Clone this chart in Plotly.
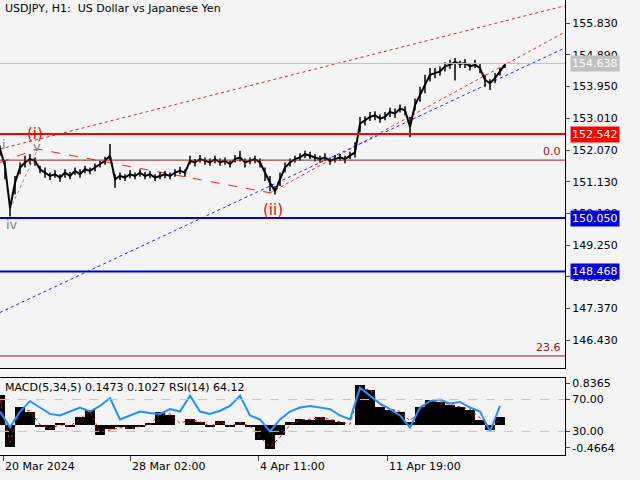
import plotly.graph_objects as go

# close prices, one every 5 bars (x is bar position)
bar_x = list(range(0, 510, 5))
close = [152.10, 151.60, 150.35, 151.10, 151.55, 151.70, 151.80, 151.75, 151.50, 151.40,
         151.30, 151.35, 151.25, 151.40, 151.30, 151.45, 151.35, 151.50, 151.45, 151.55,
         151.65, 151.75, 151.90, 151.20, 151.30, 151.25, 151.35, 151.30, 151.40, 151.30,
         151.35, 151.25, 151.30, 151.35, 151.30, 151.40, 151.45, 151.40, 151.75, 151.70,
         151.80, 151.75, 151.70, 151.80, 151.70, 151.75, 151.65, 151.80, 151.85, 151.70,
         151.75, 151.80, 151.70, 151.40, 151.10, 150.85, 151.20, 151.55, 151.70, 151.80,
         151.85, 151.95, 151.90, 151.85, 151.80, 151.85, 151.75, 151.80, 151.85, 151.80,
         151.90, 152.00, 152.85, 152.95, 153.05, 153.10, 153.00, 153.05, 153.20, 153.15,
         153.30, 153.25, 152.75, 153.40, 153.70, 154.00, 154.30, 154.35, 154.40, 154.55,
         154.60, 154.68, 154.62, 154.65, 154.55, 154.60, 154.50, 154.15, 154.05, 154.20,
         154.40, 154.60]
# bar extent above / below the close
up = [0.10, 0.15, 0.20, 0.20, 0.15, 0.20, 0.15, 0.10, 0.10, 0.15,
      0.10, 0.12, 0.10, 0.10, 0.12, 0.10, 0.15, 0.10, 0.10, 0.12,
      0.10, 0.12, 0.35, 0.15, 0.10, 0.10, 0.12, 0.10, 0.10, 0.12,
      0.10, 0.10, 0.12, 0.10, 0.10, 0.10, 0.12, 0.10, 0.15, 0.10,
      0.12, 0.10, 0.12, 0.10, 0.12, 0.10, 0.10, 0.12, 0.20, 0.12,
      0.10, 0.10, 0.12, 0.15, 0.20, 0.15, 0.20, 0.15, 0.12, 0.10,
      0.12, 0.10, 0.12, 0.10, 0.10, 0.12, 0.10, 0.12, 0.10, 0.10,
      0.12, 0.30, 0.20, 0.12, 0.15, 0.12, 0.12, 0.15, 0.12, 0.15,
      0.12, 0.12, 0.30, 0.20, 0.25, 0.30, 0.20, 0.15, 0.15, 0.12,
      0.15, 0.12, 0.10, 0.12, 0.10, 0.15, 0.12, 0.15, 0.12, 0.15,
      0.12, 0.05]
down = [0.20, 0.40, 0.25, 0.35, 0.20, 0.15, 0.15, 0.15, 0.12, 0.15,
        0.12, 0.10, 0.12, 0.15, 0.10, 0.12, 0.10, 0.12, 0.10, 0.12,
        0.10, 0.12, 0.15, 0.25, 0.12, 0.10, 0.12, 0.10, 0.12, 0.10,
        0.12, 0.10, 0.10, 0.12, 0.10, 0.12, 0.10, 0.12, 0.10, 0.12,
        0.10, 0.12, 0.10, 0.12, 0.10, 0.12, 0.10, 0.10, 0.12, 0.15,
        0.10, 0.12, 0.15, 0.25, 0.25, 0.10, 0.20, 0.15, 0.12, 0.10,
        0.10, 0.12, 0.10, 0.12, 0.10, 0.10, 0.12, 0.10, 0.10, 0.12,
        0.10, 0.15, 0.25, 0.15, 0.12, 0.15, 0.12, 0.10, 0.15, 0.12,
        0.12, 0.15, 0.30, 0.15, 0.20, 0.25, 0.20, 0.15, 0.12, 0.15,
        0.12, 0.55, 0.12, 0.15, 0.12, 0.10, 0.15, 0.20, 0.20, 0.15,
        0.12, 0.10]

osc_x = list(range(0, 510, 10))
macd = [0.60, -0.45, 0.35, 0.25, -0.05, -0.10, 0.02, -0.05, 0.15, 0.30,
        -0.20, -0.08, -0.05, -0.08, -0.05, 0.02, 0.25, 0.20, 0.00, 0.12,
        0.05, -0.05, 0.08, -0.05, 0.05, -0.05, -0.30, -0.50, -0.20, 0.05,
        0.12, 0.10, 0.15, 0.10, 0.05, 0.00, 0.80, 0.70, 0.35, 0.30,
        0.25, 0.05, 0.35, 0.50, 0.45, 0.40, 0.35, 0.30, 0.10, -0.10, 0.15]
signal = [0.50, -0.35, 0.30, 0.28, 0.00, -0.08, 0.00, -0.03, 0.12, 0.27,
          -0.15, -0.10, -0.06, -0.07, -0.04, 0.00, 0.22, 0.22, 0.03, 0.10,
          0.06, -0.03, 0.06, -0.03, 0.04, -0.03, -0.25, -0.45, -0.25, 0.00,
          0.10, 0.11, 0.14, 0.11, 0.06, 0.01, 0.70, 0.72, 0.40, 0.32,
          0.27, 0.08, 0.30, 0.47, 0.46, 0.41, 0.36, 0.31, 0.14, -0.05, 0.10]
rsi = [55, 35, 55, 68, 60, 52, 50, 55, 60, 55, 62, 72, 45, 50, 55, 53, 52, 58, 55, 75,
       55, 52, 56, 62, 75, 50, 45, 30, 45, 55, 60, 62, 60, 58, 50, 45, 85, 75, 65, 58,
       50, 35, 60, 68, 70, 65, 67, 60, 55, 30, 62]

price_ticks = [155.830, 154.890, 153.950, 153.010, 152.070, 151.130, 150.190, 149.250,
               148.310, 147.370, 146.430]
level_red = 152.542
level_blue = [150.050, 148.468]
last_price = 154.638
fib_0 = 151.77
fib_236 = 145.96
date_pos = [3, 130, 258, 387]
date_labels = ["20 Mar 2024", "28 Mar 02:00", "4 Apr 11:00", "11 Apr 19:00"]

FONT = "DejaVu Sans"
fig = go.Figure()

# trend lines
fig.add_trace(go.Scatter(x=[0, 565], y=[152.10, 156.35], mode="lines",
                         line=dict(color="#c03030", width=1, dash="dot"), hoverinfo="skip"))
fig.add_trace(go.Scatter(x=[270, 565], y=[150.80, 155.57], mode="lines",
                         line=dict(color="#ff2020", width=1, dash="dot"), hoverinfo="skip"))
fig.add_trace(go.Scatter(x=[0, 565], y=[147.25, 155.10], mode="lines",
                         line=dict(color="#2020ff", width=1, dash="dot"), hoverinfo="skip"))
fig.add_trace(go.Scatter(x=[0, 37, 270], y=[151.70, 152.10, 150.80], mode="lines",
                         line=dict(color="#ff2020", width=1, dash="dash"), hoverinfo="skip"))
fig.add_trace(go.Scatter(x=[10, 37], y=[150.30, 152.05], mode="lines",
                         line=dict(color="#888888", width=1, dash="dot"), hoverinfo="skip"))

# price bars
fig.add_trace(go.Scatter(x=bar_x, y=close, mode="lines",
                         line=dict(color="black", width=2),
                         error_y=dict(type="data", array=up, arrayminus=down, symmetric=False,
                                      width=0, thickness=1.5, color="black")))

# oscillator panel
fig.add_trace(go.Bar(x=osc_x, y=macd, width=10, marker=dict(color="black", line_width=0),
                     xaxis="x2", yaxis="y2"))
fig.add_trace(go.Scatter(x=osc_x, y=signal, mode="lines", xaxis="x2", yaxis="y2",
                         line=dict(color="red", width=1, dash="dot")))
fig.add_trace(go.Scatter(x=osc_x, y=rsi, mode="lines", xaxis="x2", yaxis="y3",
                         line=dict(color="#1e90ff", width=2)))

shapes = [
    dict(type="line", xref="x", yref="y", x0=0, x1=565, y0=last_price, y1=last_price,
         line=dict(color="#c0c0c0", width=1)),
    dict(type="line", xref="x", yref="y", x0=0, x1=565, y0=level_red, y1=level_red,
         line=dict(color="red", width=2)),
    dict(type="line", xref="x", yref="y", x0=0, x1=565, y0=fib_0, y1=fib_0,
         line=dict(color="#8b2020", width=1)),
    dict(type="line", xref="x", yref="y", x0=0, x1=565, y0=fib_236, y1=fib_236,
         line=dict(color="#8b2020", width=1)),
]
for lv in level_blue:
    shapes.append(dict(type="line", xref="x", yref="y", x0=0, x1=565, y0=lv, y1=lv,
                       line=dict(color="#0000dd", width=2)))
for lv in [70, 30]:
    shapes.append(dict(type="line", xref="x2", yref="y3", x0=0, x1=565, y0=lv, y1=lv,
                       line=dict(color="#c0c0c0", width=1, dash="dash")))

ann = [
    dict(x=0.005, y=1.0, xref="paper", yref="paper", xanchor="left", yanchor="top",
         text="USDJPY, H1:  US Dollar vs Japanese Yen", font=dict(size=11, color="black")),
    dict(x=0.005, y=0.168, xref="paper", yref="paper", xanchor="left", yanchor="top",
         text="MACD(5,34,5) 0.1473 0.1027 RSI(14) 64.12", font=dict(size=11, color="black")),
    dict(x=35, y=152.54, text="(i)", font=dict(size=15, color="red")),
    dict(x=4, y=152.22, text="i", font=dict(size=13, color="#808080")),
    dict(x=37, y=152.17, text="v", font=dict(size=13, color="#808080")),
    dict(x=12, y=149.85, text="iv", font=dict(size=13, color="#808080")),
    dict(x=273, y=150.30, text="(ii)", font=dict(size=15, color="red")),
    dict(x=563, y=fib_0, text="0.0", xanchor="right", yanchor="bottom",
         font=dict(size=11, color="#8b2020")),
    dict(x=563, y=fib_236, text="23.6", xanchor="right", yanchor="bottom",
         font=dict(size=11, color="#8b2020")),
]
for a in ann:
    a["showarrow"] = False
boxes = [(last_price, "#c0c0c0"), (level_red, "red")] + [(lv, "#0000dd") for lv in level_blue]
for lv, col in boxes:
    ann.append(dict(x=1.0, xref="paper", y=lv, yref="y", xanchor="left", showarrow=False,
                    text=f"{lv:.3f}", bgcolor=col, font=dict(size=11, color="white"),
                    borderpad=1, xshift=5))
for pos, lab in zip(date_pos, date_labels):
    ann.append(dict(x=pos, xref="x2", y=0, yref="paper", yanchor="top", xanchor="left",
                    yshift=-3, showarrow=False, text=lab, font=dict(size=11, color="black")))

tickfont = dict(size=11, color="black")
fig.update_layout(
    width=640, height=480, showlegend=False,
    paper_bgcolor="#f4f4f4", plot_bgcolor="#f4f4f4",
    margin=dict(l=0, r=75, t=0, b=25, autoexpand=False),
    font=dict(family=FONT, size=11),
    bargap=0,
    xaxis=dict(range=[0, 565], showticklabels=False, showgrid=False, zeroline=False,
               showline=True, linecolor="black", mirror=True, ticks=""),
    yaxis=dict(domain=[0.191, 1.0], range=[145.6, 156.52], side="right", automargin=False,
               tickvals=price_ticks, ticktext=[f"{v:.3f}" for v in price_ticks],
               ticks="outside", ticklen=4, tickfont=tickfont, showgrid=False,
               zeroline=False, showline=True, linecolor="black", mirror=True),
    xaxis2=dict(range=[0, 565], anchor="y2", tickvals=date_pos, showticklabels=False,
                ticks="outside", ticklen=5, showgrid=False, automargin=False,
                zeroline=False, showline=True, linecolor="black", mirror=True),
    yaxis2=dict(domain=[0.0, 0.169], range=[-0.61, 0.94], anchor="x2", side="right",
                tickvals=[0.8365, -0.4664], ticktext=["0.8365", "-0.4664"], automargin=False,
                ticks="outside", ticklen=4, tickfont=tickfont, showgrid=False,
                zeroline=False, showline=True, linecolor="black", mirror=True),
    yaxis3=dict(range=[0.3, 97], overlaying="y2", anchor="x2", side="right", automargin=False,
                tickvals=[70, 30], ticktext=["70.00", "30.00"], ticks="outside", ticklen=4,
                tickfont=tickfont, showgrid=False, zeroline=False),
    shapes=shapes, annotations=ann,
)
fig.write_html("out.html", config={"displayModeBar": False},
               post_script="document.body.style.margin='0px';")
